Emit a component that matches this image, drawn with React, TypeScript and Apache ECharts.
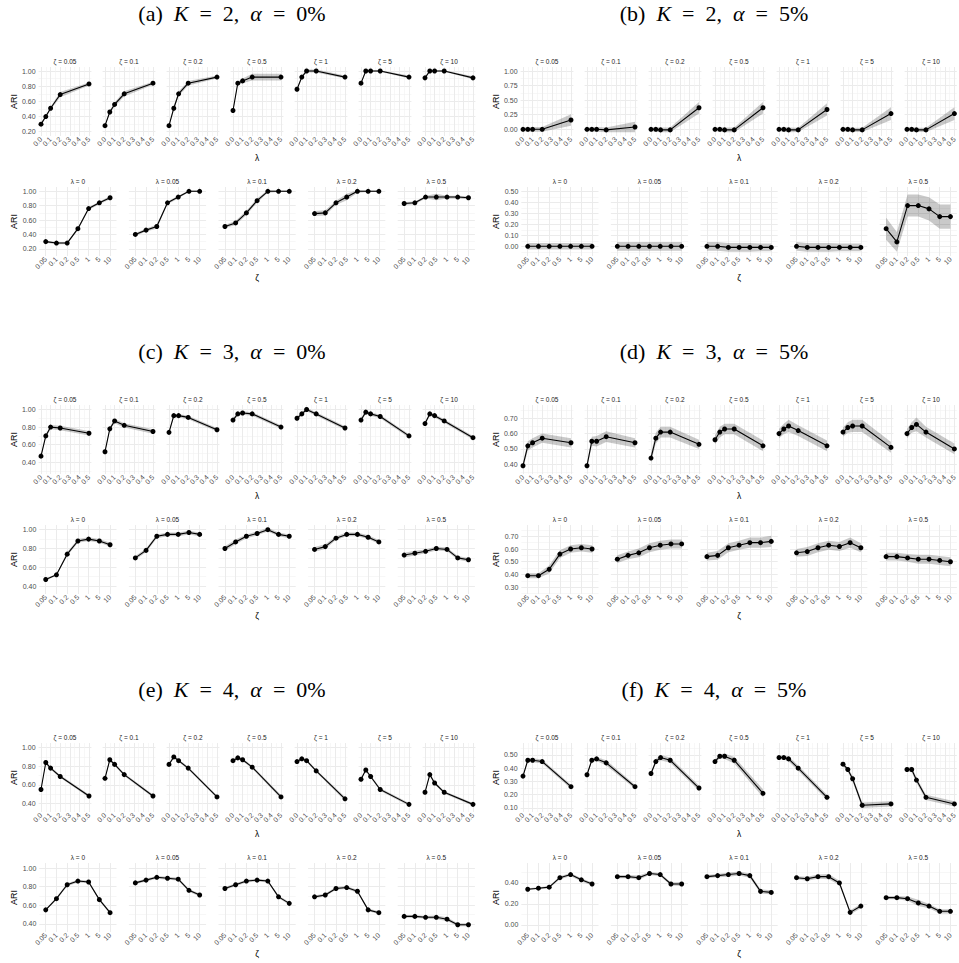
import React, { useEffect, useRef } from "react";
import * as echarts from "echarts";

// ---------- data ----------
const LAMBDA_VALUES = [0, 0.05, 0.1, 0.2, 0.5];
const LAMBDA_STRIPS = ["0", "0.05", "0.1", "0.2", "0.5"];
const ZETA_LABELS = ["0.05", "0.1", "0.2", "0.5", "1", "5", "10"];
const ZETA_POS = [1, 2, 3, 4, 5, 6, 7];

// rows: lambda = 0, 0.05, 0.1, 0.2, 0.5 ; columns: zeta = 0.05 ... 10
const ariA = [
  [0.30, 0.28, 0.28, 0.48, 0.76, 0.84, 0.91],
  [0.40, 0.46, 0.51, 0.84, 0.92, 1.00, 1.00],
  [0.51, 0.56, 0.70, 0.87, 1.00, 1.00, 1.00],
  [0.69, 0.70, 0.84, 0.92, 1.00, 1.00, 1.00],
  [0.83, 0.84, 0.92, 0.92, 0.92, 0.92, 0.91],
];
const bandA = [
  [0.015, 0.015, 0.015, 0.02, 0.02, 0.02, 0.02],
  [0.02, 0.02, 0.03, 0.02, 0.02, 0.01, 0.01],
  [0.02, 0.03, 0.03, 0.03, 0.02, 0.01, 0.01],
  [0.035, 0.035, 0.03, 0.045, 0.02, 0.01, 0.01],
  [0.02, 0.02, 0.02, 0.045, 0.02, 0.02, 0.02],
];
const ariB = [
  [0.00, 0.00, 0.00, 0.00, 0.00, 0.00, 0.00],
  [0.00, 0.00, 0.00, 0.00, 0.00, 0.00, 0.00],
  [0.00, 0.00, -0.01, -0.01, -0.01, -0.01, -0.01],
  [0.00, -0.01, -0.01, -0.01, -0.01, -0.01, -0.01],
  [0.16, 0.04, 0.37, 0.37, 0.34, 0.27, 0.27],
];
const bandB = [
  [0.03, 0.03, 0.03, 0.03, 0.03, 0.03, 0.03],
  [0.04, 0.04, 0.04, 0.04, 0.04, 0.04, 0.04],
  [0.04, 0.04, 0.04, 0.04, 0.04, 0.035, 0.035],
  [0.04, 0.04, 0.04, 0.04, 0.035, 0.035, 0.035],
  [0.10, 0.09, 0.10, 0.10, 0.105, 0.11, 0.11],
];
const ariC = [
  [0.47, 0.52, 0.74, 0.88, 0.90, 0.88, 0.84],
  [0.70, 0.78, 0.93, 0.95, 0.95, 0.97, 0.95],
  [0.80, 0.87, 0.93, 0.96, 1.00, 0.95, 0.93],
  [0.79, 0.82, 0.91, 0.95, 0.95, 0.92, 0.87],
  [0.73, 0.75, 0.77, 0.80, 0.79, 0.70, 0.68],
];
const bandC = [
  [0.01, 0.01, 0.02, 0.02, 0.02, 0.02, 0.02],
  [0.02, 0.02, 0.02, 0.02, 0.02, 0.02, 0.02],
  [0.025, 0.025, 0.02, 0.02, 0.02, 0.02, 0.02],
  [0.025, 0.025, 0.02, 0.02, 0.02, 0.02, 0.02],
  [0.025, 0.025, 0.02, 0.02, 0.02, 0.02, 0.02],
];
const ariD = [
  [0.39, 0.39, 0.44, 0.56, 0.60, 0.61, 0.60],
  [0.52, 0.55, 0.57, 0.61, 0.63, 0.64, 0.64],
  [0.54, 0.55, 0.61, 0.63, 0.65, 0.65, 0.66],
  [0.57, 0.58, 0.61, 0.63, 0.62, 0.65, 0.61],
  [0.54, 0.54, 0.53, 0.52, 0.52, 0.51, 0.50],
];
const bandD = [
  [0.02, 0.02, 0.03, 0.03, 0.03, 0.03, 0.03],
  [0.03, 0.03, 0.035, 0.035, 0.035, 0.035, 0.035],
  [0.03, 0.035, 0.035, 0.035, 0.04, 0.04, 0.045],
  [0.03, 0.035, 0.035, 0.035, 0.035, 0.04, 0.035],
  [0.03, 0.03, 0.03, 0.035, 0.035, 0.035, 0.035],
];
const ariE = [
  [0.55, 0.67, 0.82, 0.86, 0.85, 0.66, 0.52],
  [0.84, 0.87, 0.90, 0.89, 0.88, 0.76, 0.71],
  [0.78, 0.82, 0.86, 0.87, 0.86, 0.69, 0.62],
  [0.69, 0.71, 0.78, 0.79, 0.75, 0.55, 0.52],
  [0.48, 0.48, 0.47, 0.47, 0.45, 0.39, 0.39],
];
const bandE = [
  [0.01, 0.015, 0.015, 0.015, 0.015, 0.015, 0.015],
  [0.015, 0.015, 0.015, 0.015, 0.015, 0.015, 0.015],
  [0.015, 0.015, 0.015, 0.015, 0.015, 0.015, 0.015],
  [0.015, 0.015, 0.015, 0.015, 0.015, 0.015, 0.015],
  [0.015, 0.015, 0.015, 0.02, 0.02, 0.015, 0.015],
];
const ariF = [
  [0.34, 0.35, 0.36, 0.45, 0.48, 0.43, 0.39],
  [0.46, 0.46, 0.45, 0.49, 0.48, 0.39, 0.39],
  [0.46, 0.47, 0.48, 0.49, 0.47, 0.32, 0.31],
  [0.45, 0.44, 0.46, 0.46, 0.40, 0.12, 0.18],
  [0.26, 0.26, 0.25, 0.21, 0.18, 0.13, 0.13],
];
const bandF = [
  [0.01, 0.01, 0.01, 0.015, 0.015, 0.015, 0.015],
  [0.015, 0.015, 0.02, 0.015, 0.015, 0.015, 0.02],
  [0.015, 0.015, 0.02, 0.02, 0.02, 0.02, 0.02],
  [0.015, 0.02, 0.02, 0.025, 0.02, 0.02, 0.02],
  [0.015, 0.015, 0.02, 0.03, 0.02, 0.02, 0.02],
];

// y axis ranges: [min, max, step] for the λ-row (top) and the ζ-row (bottom)
const PANELS = [
  { id: "a", K: "2", alpha: "0%", ari: ariA, band: bandA, topY: [0.144, 1.053, 0.2], botY: [0.10, 1.06, 0.2] },
  { id: "b", K: "2", alpha: "5%", ari: ariB, band: bandB, topY: [-0.115, 1.069, 0.25], botY: [-0.088, 0.539, 0.1] },
  { id: "c", K: "3", alpha: "0%", ari: ariC, band: bandC, topY: [0.267, 1.051, 0.2], botY: [0.316, 1.05, 0.2] },
  { id: "d", K: "3", alpha: "5%", ari: ariD, band: bandD, topY: [0.336, 0.787, 0.1], botY: [0.246, 0.789, 0.1] },
  { id: "e", K: "4", alpha: "0%", ari: ariE, band: bandE, topY: [0.308, 1.05, 0.2], botY: [0.312, 1.054, 0.2] },
  { id: "f", K: "4", alpha: "5%", ari: ariF, band: bandF, topY: [0.069, 0.59, 0.1], botY: [-0.067, 0.59, 0.2] },
];

// ---------- layout ----------
const SANS = '"Liberation Sans", Arial, sans-serif';
const SERIF = '"Liberation Serif", "DejaVu Serif", serif';
const COL_X = [0, 482];
const ROW_Y = [0, 338, 676];
const TOP_LEFT0 = 38.6, TOP_PITCH = 64, TOP_W = 52.8;
const BOT_LEFT0 = 39.3, BOT_PITCH = 89.6, BOT_W = 77.2;
const PANEL_H = 69;
const TOP_ROW_TOP = 67, BOT_ROW_TOP = 187;

const isMult = (v: number, s: number) => Math.abs(v / s - Math.round(v / s)) < 1e-6;

function buildOption() {
  const grid: any[] = [];
  const xAxis: any[] = [];
  const yAxis: any[] = [];
  const series: any[] = [];
  const graphic: any[] = [];

  const gridLine = { show: true, lineStyle: { color: "#ebebeb", width: 1 }, showMinLine: false, showMaxLine: false };
  const minorLine = { show: true, lineStyle: { color: "#f1f1f1", width: 0.6 } };
  const lab = { fontSize: 7, color: "#4d4d4d", fontFamily: SANS };

  const text = (x: number, y: number, t: string, size: number, color: string, extra: any = {}) => {
    graphic.push({
      type: "text",
      x,
      y,
      silent: true,
      ...extra,
      style: {
        text: t,
        font: `${size}px ${SANS}`,
        fill: color,
        align: "center",
        verticalAlign: "middle",
        textAlign: "center",
        textVerticalAlign: "middle",
      },
    });
  };

  const addFacet = (rect: number[], xAx: any, yAx: any, xs: number[], ys: number[], band: number[]) => {
    const gi = grid.length;
    grid.push({ left: rect[0], top: rect[1], width: rect[2], height: rect[3], containLabel: false });
    xAxis.push({ gridIndex: gi, ...xAx });
    yAxis.push({ gridIndex: gi, ...yAx });
    const lo = ys.map((v, i) => v - band[i]);
    const hi = ys.map((v, i) => v + band[i]);
    series.push({
      type: "custom",
      coordinateSystem: "cartesian2d",
      xAxisIndex: gi,
      yAxisIndex: gi,
      clip: false,
      silent: true,
      z: 1,
      data: xs.map((x, i) => [x, lo[i], hi[i]]),
      encode: { x: 0, y: [1, 2] },
      renderItem: (params: any, api: any) => {
        if (params.dataIndex !== 0) return;
        const upper = xs.map((x, i) => api.coord([x, hi[i]]));
        const lower = xs.map((x, i) => api.coord([x, lo[i]])).reverse();
        return {
          type: "polygon",
          shape: { points: upper.concat(lower) },
          style: { fill: "rgba(0,0,0,0.21)" },
        };
      },
    });
    series.push({
      type: "line",
      xAxisIndex: gi,
      yAxisIndex: gi,
      data: xs.map((x, i) => [x, ys[i]]),
      symbol: "circle",
      symbolSize: 5,
      showSymbol: true,
      clip: false,
      silent: true,
      z: 3,
      lineStyle: { color: "#000", width: 1.1 },
      itemStyle: { color: "#000" },
    });
  };

  PANELS.forEach((p, pi) => {
    const L = COL_X[pi % 2];
    const B = ROW_Y[Math.floor(pi / 2)];

    // panel caption
    graphic.push({
      type: "text",
      x: L + 232,
      y: B + 13,
      silent: true,
      style: {
        text: `{n|(${p.id})  }{i|K}{n|  =  ${p.K},  }{i|α}{n|  =  ${p.alpha}}`,
        align: "center",
        verticalAlign: "middle",
        textAlign: "center",
        textVerticalAlign: "middle",
        rich: {
          n: { fontSize: 22, fontFamily: SERIF },
          i: { fontSize: 22, fontFamily: SERIF, fontStyle: "italic" },
        },
      },
    });

    const yAxisCfg = (r: number[], show: boolean) => ({
      type: "value",
      min: r[0],
      max: r[1],
      minInterval: r[2],
      maxInterval: r[2],
      splitNumber: 5,
      axisLine: { show: false },
      axisTick: { show: false },
      axisLabel: {
        show,
        ...lab,
        margin: 3,
        formatter: (v: number) => (isMult(v, r[2]) ? v.toFixed(2) : ""),
      },
      splitLine: gridLine,
      minorTick: { show: false, splitNumber: 2 },
      minorSplitLine: minorLine,
    });

    // top row: one facet per zeta, x = lambda
    const topX = {
      type: "value",
      min: -0.025,
      max: 0.525,
      minInterval: 0.1,
      maxInterval: 0.1,
      splitNumber: 5,
      axisLine: { show: false },
      axisTick: { show: false },
      axisLabel: {
        ...lab,
        rotate: 45,
        margin: 2,
        formatter: (v: number) => (isMult(v, 0.1) && v >= 0 && v <= 0.5 ? v.toFixed(1) : ""),
      },
      splitLine: gridLine,
      minorTick: { show: false, splitNumber: 2 },
      minorSplitLine: minorLine,
    };
    ZETA_LABELS.forEach((z, k) => {
      const left = L + TOP_LEFT0 + TOP_PITCH * k;
      const top = B + TOP_ROW_TOP;
      addFacet(
        [left, top, TOP_W, PANEL_H],
        topX,
        yAxisCfg(p.topY, k === 0),
        LAMBDA_VALUES,
        p.ari.map((row) => row[k]),
        p.band.map((row) => row[k])
      );
      text(left + TOP_W / 2, B + 61, `ζ = ${z}`, 6.5, "#1a1a1a");
    });
    text(L + 14, B + TOP_ROW_TOP + PANEL_H / 2, "ARI", 9, "#000", { rotation: Math.PI / 2 });
    text(L + (TOP_LEFT0 + TOP_PITCH * 6 + TOP_W + TOP_LEFT0) / 2, B + 158, "λ", 8.5, "#000");

    // bottom row: one facet per lambda, x = zeta
    const botX = {
      type: "value",
      min: 0.4,
      max: 7.6,
      minInterval: 1,
      maxInterval: 1,
      splitNumber: 7,
      axisLine: { show: false },
      axisTick: { show: false },
      axisLabel: {
        ...lab,
        rotate: 45,
        margin: 2,
        formatter: (v: number) => (isMult(v, 1) && v >= 1 && v <= 7 ? ZETA_LABELS[Math.round(v) - 1] : ""),
      },
      splitLine: gridLine,
    };
    LAMBDA_STRIPS.forEach((l, k) => {
      const left = L + BOT_LEFT0 + BOT_PITCH * k;
      const top = B + BOT_ROW_TOP;
      addFacet([left, top, BOT_W, PANEL_H], botX, yAxisCfg(p.botY, k === 0), ZETA_POS, p.ari[k], p.band[k]);
      text(left + BOT_W / 2, B + 181, `λ = ${l}`, 6.5, "#1a1a1a");
    });
    text(L + 14, B + BOT_ROW_TOP + PANEL_H / 2, "ARI", 9, "#000", { rotation: Math.PI / 2 });
    text(L + (BOT_LEFT0 + BOT_PITCH * 4 + BOT_W + BOT_LEFT0) / 2, B + 278, "ζ", 8.5, "#000");
  });

  return { animation: false, backgroundColor: "#ffffff", grid, xAxis, yAxis, series, graphic };
}

export default function App() {
  const ref = useRef<HTMLDivElement>(null);
  useEffect(() => {
    if (!ref.current) return;
    const chart = echarts.init(ref.current, null, { renderer: "svg" });
    chart.setOption(buildOption());
    return () => chart.dispose();
  }, []);
  return (
    <div
      ref={ref}
      style={{ position: "fixed", left: 0, top: 0, width: 959, height: 963, background: "#fff" }}
    />
  );
}
